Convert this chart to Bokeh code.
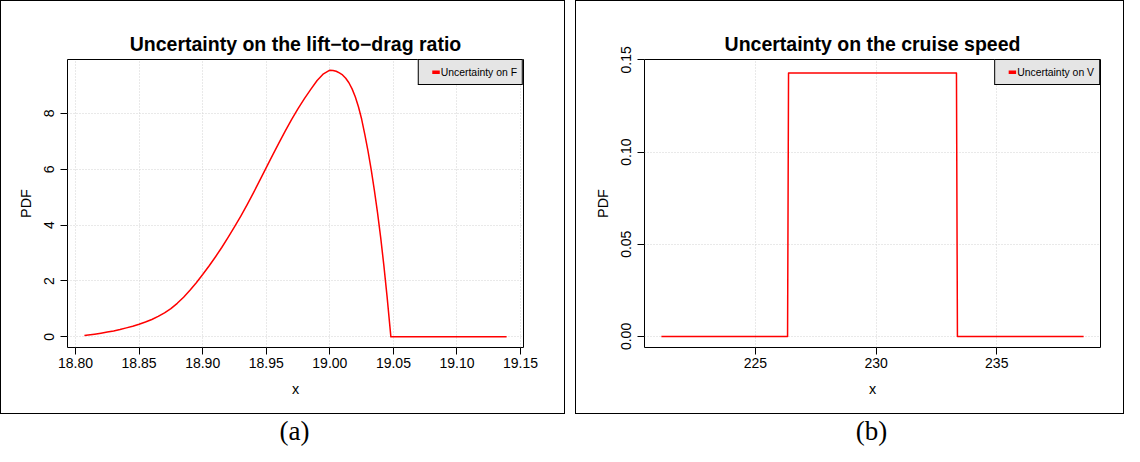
from bokeh.plotting import figure
from bokeh.models import (Range1d, FixedTicker, PrintfTickFormatter, Legend, LegendItem,
                          ColumnDataSource)
from bokeh.layouts import row, column
from bokeh.embed import file_html
from bokeh.resources import INLINE
from bokeh.core.properties import value

NAN = float("nan")

# ---- data ----
f_x = [18.807, 18.81, 18.815, 18.82, 18.825, 18.83, 18.835, 18.84, 18.845, 18.85,
       18.855, 18.86, 18.865, 18.87, 18.875, 18.88, 18.885, 18.89, 18.895, 18.90,
       18.905, 18.91, 18.915, 18.92, 18.925, 18.93, 18.935, 18.94, 18.945, 18.95,
       18.955, 18.96, 18.965, 18.97, 18.975, 18.98, 18.985, 18.99, 18.995, 19.00,
       19.0025, 19.005, 19.0075, 19.01, 19.0125, 19.015, 19.0175, 19.02, 19.0225, 19.025,
       19.0275, 19.03, 19.0325, 19.035, 19.0375, 19.04, 19.0425, 19.045, 19.048, 19.139]
f_pdf = [0.05, 0.065, 0.095, 0.13, 0.17, 0.21, 0.26, 0.32, 0.38, 0.45,
         0.53, 0.62, 0.73, 0.86, 1.01, 1.20, 1.42, 1.67, 1.94, 2.23,
         2.535, 2.86, 3.20, 3.56, 3.935, 4.325, 4.735, 5.165, 5.61, 6.06,
         6.505, 6.945, 7.375, 7.79, 8.175, 8.53, 8.86, 9.18, 9.42, 9.55,
         9.54, 9.51, 9.45, 9.38, 9.26, 9.10, 8.88, 8.60, 8.24, 7.80,
         7.25, 6.66, 6.00, 5.25, 4.45, 3.55, 2.55, 1.45, 0.0, 0.0]

v_x = [221.1, 226.33, 226.37, 233.33, 233.37, 238.6]
v_pdf = [0.0, 0.0, 0.1429, 0.1429, 0.0, 0.0]

f_xticks = [18.80, 18.85, 18.90, 18.95, 19.00, 19.05, 19.10, 19.15]
f_yticks = [0, 2, 4, 6, 8]
v_xticks = [225, 230, 235]
v_yticks = [0.00, 0.05, 0.10, 0.15]

titles = ["Uncertainty on the lift\u2212to\u2212drag ratio", "Uncertainty on the cruise speed"]
legend_labels = ["Uncertainty on F", "Uncertainty on V"]
captions = ["(a)", "(b)"]

SANS = "Liberation Sans"
FIG_H = 414


def make_panel(xs, ys, title, label, xr, yr, xt, yt, ygrid_t, xfmt, yfmt, width, left):
    frame_w = 456
    p = figure(width=width, height=FIG_H, x_range=Range1d(*xr), y_range=Range1d(*yr),
               toolbar_location=None, output_backend="svg",
               min_border_left=left, min_border_right=width - left - frame_w,
               min_border_top=58, min_border_bottom=FIG_H - 58 - 288,
               styles={"border": "1px solid black", "box-sizing": "border-box"})
    p.title.text = title
    p.title.align = "center"
    p.title.text_font = SANS
    p.title.text_font_size = "19.5px"
    p.title.text_font_style = "bold"
    p.title.text_color = "black"
    p.title.standoff = 10

    p.outline_line_color = "black"
    p.outline_line_width = 1
    p.outline_line_alpha = 1

    src = ColumnDataSource(data=dict(x=xs, y=ys))
    p.line("x", "y", source=src, line_color="red", line_width=1.5, line_join="round")

    p.xaxis.ticker = FixedTicker(ticks=xt)
    p.yaxis.ticker = FixedTicker(ticks=yt)
    p.xaxis.formatter = PrintfTickFormatter(format=xfmt)
    p.yaxis.formatter = PrintfTickFormatter(format=yfmt)
    p.xaxis.axis_label = "x"
    p.yaxis.axis_label = "PDF"
    p.yaxis.major_label_orientation = "vertical"
    for ax in (p.xaxis, p.yaxis):
        ax.axis_line_color = None
        ax.major_tick_out = 7
        ax.major_tick_in = 0
        ax.minor_tick_out = 0
        ax.minor_tick_in = 0
        ax.major_tick_line_color = "black"
        ax.major_label_text_font = SANS
        ax.major_label_text_font_size = "14px"
        ax.major_label_text_color = "black"
        ax.axis_label_text_font = SANS
        ax.axis_label_text_font_size = "14.4px"
        ax.axis_label_text_font_style = "normal"
        ax.axis_label_text_color = "black"
    p.xaxis.major_label_standoff = 3
    p.yaxis.major_label_standoff = 6
    p.xaxis.axis_label_standoff = 10
    p.yaxis.axis_label_standoff = 8

    p.xgrid.ticker = FixedTicker(ticks=xt)
    p.ygrid.ticker = FixedTicker(ticks=ygrid_t)
    p.grid.grid_line_color = "#d3d3d3"
    p.grid.grid_line_dash = "1 2"
    p.grid.grid_line_width = 1

    # legend key: a thick short red bar (NaN geometry, so nothing is drawn in the plot)
    key_src = ColumnDataSource(data=dict(x0=[NAN], y0=[NAN], x1=[NAN], y1=[NAN]))
    key = p.segment("x0", "y0", "x1", "y1", source=key_src, line_color="red", line_width=4,
                    line_dash="0 8 8 0", line_cap="butt")
    legend = Legend(items=[LegendItem(label=label, renderers=[key])],
                    location="top_right", margin=0, padding=5,
                    glyph_width=16, glyph_height=4, label_standoff=1,
                    label_height=14, label_text_font=SANS,
                    label_text_font_size="10.4px", label_text_color="black",
                    background_fill_color="#e5e5e5", background_fill_alpha=1,
                    border_line_color="black", border_line_width=1, border_line_alpha=1)
    p.add_layout(legend)
    return p


def make_caption(text, width):
    c = figure(width=width, height=32, x_range=Range1d(0, 1), y_range=Range1d(0, 1),
               toolbar_location=None, output_backend="svg", min_border=0,
               x_axis_type=None, y_axis_type=None)
    c.grid.visible = False
    c.outline_line_color = None
    c.text(x=[0.5], y=[0.5], text=[text], text_align="center", text_baseline="middle",
           text_font=value("Liberation Serif"), text_font_size="27px", text_color="black")
    return c


p1 = make_panel(f_x, f_pdf, titles[0], legend_labels[0], (18.7937, 19.1523), (-0.382, 9.932),
                f_xticks, f_yticks, f_yticks, "%.2f", "%d", 565, 66)
p2 = make_panel(v_x, v_pdf, titles[1], legend_labels[1], (220.4, 239.3), (-0.006, 0.1502),
                v_xticks, v_yticks, v_yticks[:-1], "%d", "%.2f", 549, 68)
c1 = make_caption(captions[0], 565)
c2 = make_caption(captions[1], 549)

layout = row(column(p1, c1, spacing=0), column(p2, c2, spacing=0), spacing=10)

open("out.html", "w").write(file_html(layout, INLINE))
